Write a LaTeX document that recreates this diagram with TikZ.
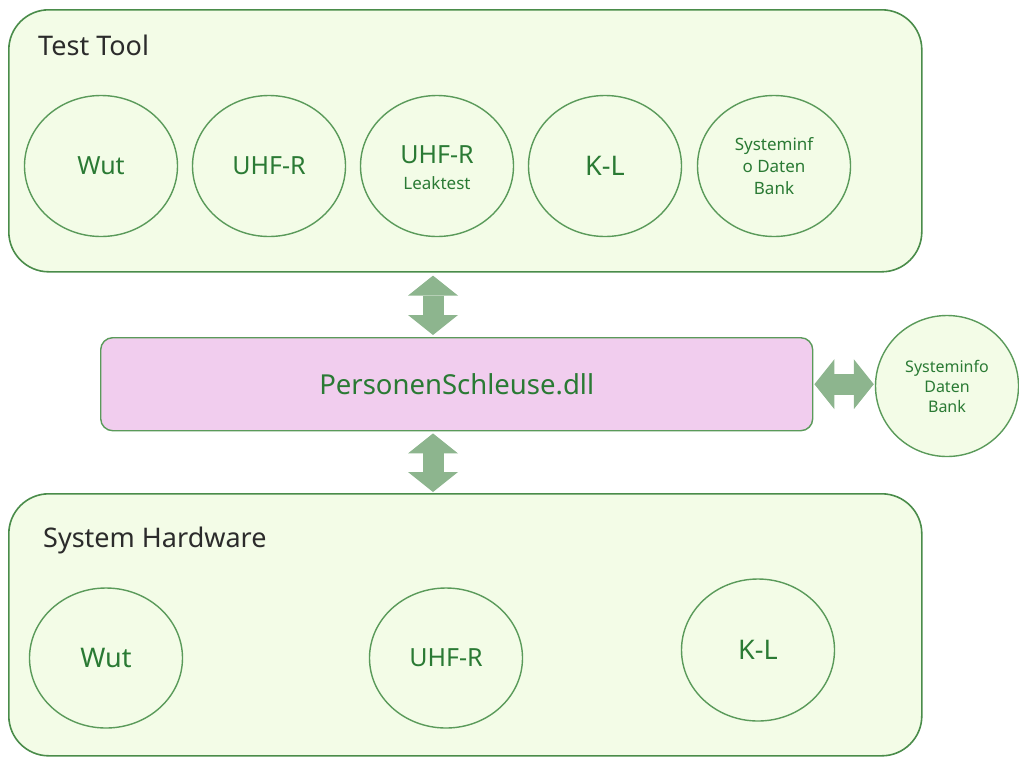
\documentclass[tikz,border=0pt]{standalone}
\usepackage{fontspec}
\setmainfont{Noto Sans}
\usetikzlibrary{shapes.geometric,arrows.meta,calc}
\definecolor{boxfill}{HTML}{F3FCE7}
\definecolor{boxline}{HTML}{4A8C4A}
\definecolor{circline}{HTML}{5A9A5A}
\definecolor{txtgreen}{HTML}{2A7A34}
\definecolor{pinkfill}{HTML}{F1CDEE}
\definecolor{arrowc}{HTML}{8DB58E}
\definecolor{titlec}{HTML}{2B2B2B}
\begin{document}
\begin{tikzpicture}[x=1pt,y=-1pt,
  bigbox/.style={draw=boxline,line width=1.6pt,fill=boxfill,rounded corners=40pt,
    rectangle,anchor=north west,inner sep=0pt},
  title/.style={anchor=west,text=titlec,font=\fontsize{27}{32}\selectfont,inner sep=0pt},
  circ/.style={ellipse,draw=circline,line width=1.4pt,fill=boxfill,inner sep=0pt,
    minimum width=153pt,minimum height=141pt,text=txtgreen,align=center},
  big/.style={font=\fontsize{25}{30}\selectfont},
  small/.style={font=\fontsize{17}{22}\selectfont},
  bigarr/.style={draw=arrowc,line width=21pt,
    {Triangle[width=50pt,length=20pt,line width=0pt]}-{Triangle[width=50pt,length=20pt,line width=0pt]}}
]
\useasboundingbox (0,0) rectangle (1019,756);
% top box
\node[bigbox,minimum width=913pt,minimum height=262pt] (tt) at (8,9) {};
\node[title] (ttl) at (38,45) {Test Tool};
\node[circ,big] (c1) at (101,166) {Wut};
\node[circ] (c2) at (269,166) {};
\node[text=txtgreen,big] (c2t) at (c2.center) {UHF-R};
\node[circ] (c3) at (437,166) {};
\node[text=txtgreen,big,inner sep=0pt] (c3a) at (437,155) {UHF-R};
\node[text=txtgreen,font=\fontsize{17}{21}\selectfont,inner sep=0pt] (c3b) at (437,183) {Leaktest};
\node[circ,font=\fontsize{27}{30}\selectfont] (c4) at (605,166) {K-L};
\node[circ,small] (c5) at (774,166) {Systeminf\\o Daten\\Bank};
% middle
\node[rectangle,draw=circline,line width=1.4pt,fill=pinkfill,rounded corners=12pt,
  minimum width=712pt,minimum height=93pt,anchor=north west] (dll) at (100,337) {};
\node[text=txtgreen,font=\fontsize{27.5}{32}\selectfont] (dllt) at (dll.center) {PersonenSchleuse.dll};
\node[circ,minimum width=143pt,minimum height=141pt,font=\fontsize{16}{20}\selectfont] (sdb) at (947,386) {Systeminfo\\Daten\\Bank};
% bottom box
\node[bigbox,minimum width=913pt,minimum height=262pt] (sh) at (8,493) {};
\node[title] (shl) at (43,540) {System Hardware};
\node[circ,font=\fontsize{27}{30}\selectfont,minimum height=140pt] (d1) at (106,658) {Wut};
\node[circ,font=\fontsize{25}{30}\selectfont,minimum height=140pt] (d2) at (446,658) {UHF-R};
\node[circ,font=\fontsize{27}{30}\selectfont,minimum height=142pt] (d3) at (758,650) {K-L};
% arrows
\coordinate (ax) at (433,0);
\draw[bigarr] ($(tt.south -| ax)+(0,3)$) -- ($(dll.north -| ax)+(0,-2)$);
\draw[bigarr] ($(dll.south -| ax)+(0,2)$) -- ($(sh.north -| ax)+(0,-1)$);
\draw[bigarr] ($(dll.east)+(1,0)$) -- ($(dll.east -| sdb.west)+(-1,0)$);
\end{tikzpicture}
\end{document}
